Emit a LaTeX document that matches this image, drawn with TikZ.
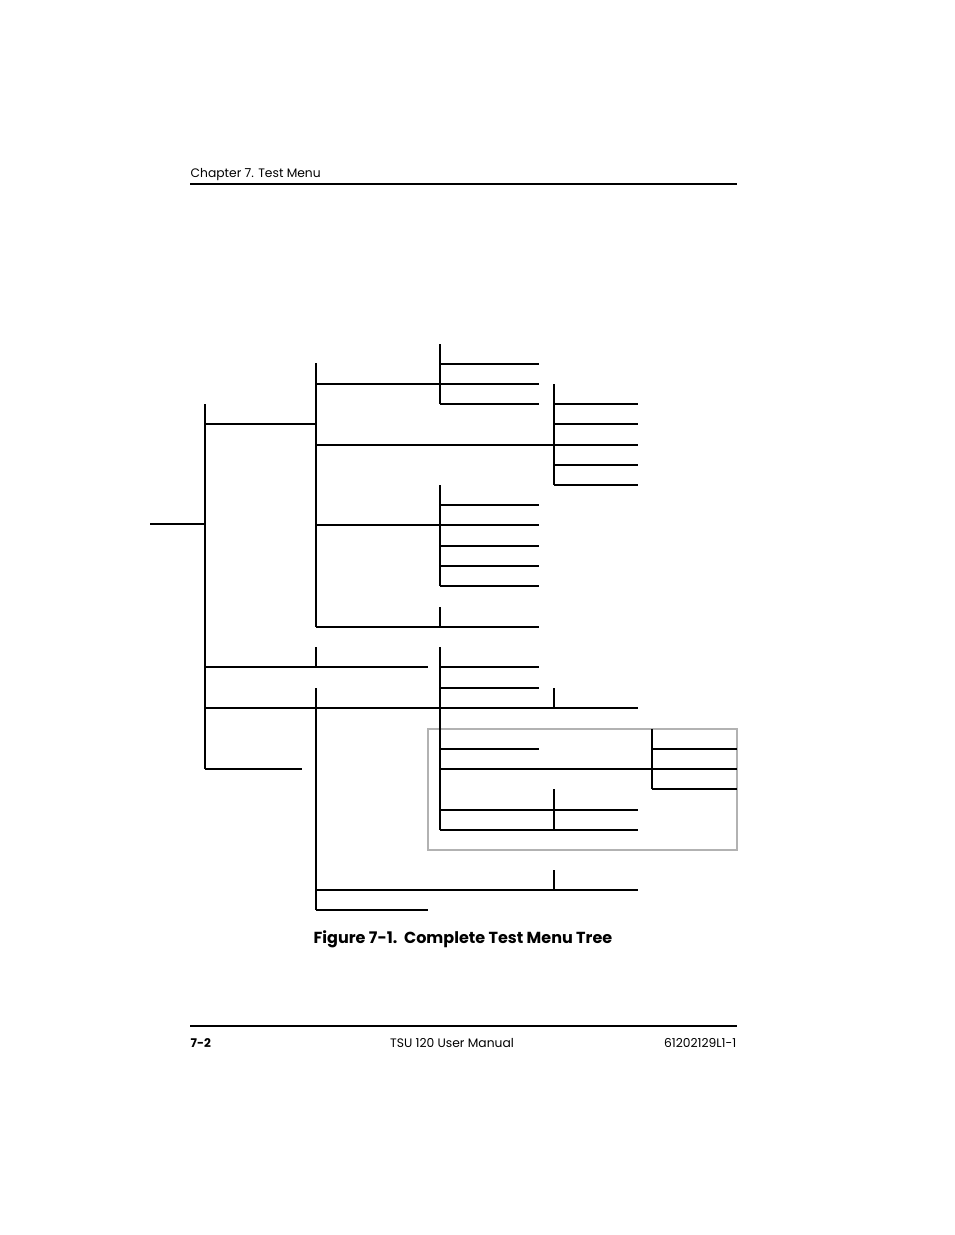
\documentclass[tikz,border=0pt]{standalone}
\usepackage{fontspec}
\setmainfont{Poppins}
\begin{document}
\begin{tikzpicture}[x=1pt,y=-1pt,line width=1.3pt,
  ln/.style={draw=black,line width=1.3pt},
  tx/.style={inner sep=0pt,font=\fontsize{12.3}{14}\selectfont}]
\useasboundingbox[fill=white] (0,0) rectangle (954,1235);
\node[tx,anchor=base west] (hdr) at (190,177) {Chapter 7. Test Menu};
\draw[line width=1.5pt] (190,184) -- (737,184);
\draw[line width=1.5pt] (190,1026) -- (737,1026);
\node[tx,anchor=base west,font=\fontsize{12}{14}\selectfont\bfseries] (pg) at (190,1047) {7-2};
\node[tx,anchor=base] (man) at (452,1047) {TSU 120 User Manual};
\node[tx,anchor=base east] (num) at (737,1047) {61202129L1-1};
\node[tx,anchor=base,font=\fontsize{16}{19}\selectfont\bfseries] (cap) at (463,943) {Figure 7-1.\ \ Complete Test Menu Tree};
% gray box
\draw[gray!60,line width=1.5pt] (428,729) rectangle (737,850);
% tree
\draw[ln] (150,524) -- (205,524);
\draw[ln] (205,404) -- (205,769);
\draw[ln] (205,424) -- (316,424);
\draw[ln] (316,363) -- (316,627);
\draw[ln] (316,384) -- (440,384);
\draw[ln] (440,344) -- (440,404);
\foreach \y in {364,384,404} \draw[ln] (440,\y) -- (539,\y);
\draw[ln] (316,445) -- (638,445);
\draw[ln] (554,384) -- (554,485);
\foreach \y in {404,424,445,465,485} \draw[ln] (554,\y) -- (638,\y);
\draw[ln] (316,525) -- (440,525);
\draw[ln] (440,485) -- (440,586);
\foreach \y in {505,525,546,566,586} \draw[ln] (440,\y) -- (539,\y);
\draw[ln] (316,627) -- (539,627);
\draw[ln] (440,607) -- (440,627);
\draw[ln] (205,667) -- (428,667);
\draw[ln] (316,647) -- (316,667);
\draw[ln] (440,647) -- (440,708);
\foreach \y in {667,688} \draw[ln] (440,\y) -- (539,\y);
\draw[ln] (205,708) -- (638,708);
\draw[ln] (316,688) -- (316,910);
\draw[ln] (554,688) -- (554,708);
\draw[ln] (440,708) -- (440,830);
\draw[ln] (440,749) -- (539,749);
\draw[ln] (440,769) -- (652,769);
\draw[ln] (652,729) -- (652,789);
\foreach \y in {749,769,789} \draw[ln] (652,\y) -- (737,\y);
\draw[ln] (554,789) -- (554,830);
\draw[ln] (440,810) -- (638,810);
\draw[ln] (440,830) -- (638,830);
\draw[ln] (205,769) -- (302,769);
\draw[ln] (316,890) -- (638,890);
\draw[ln] (554,870) -- (554,890);
\draw[ln] (316,910) -- (428,910);
\end{tikzpicture}
\end{document}
